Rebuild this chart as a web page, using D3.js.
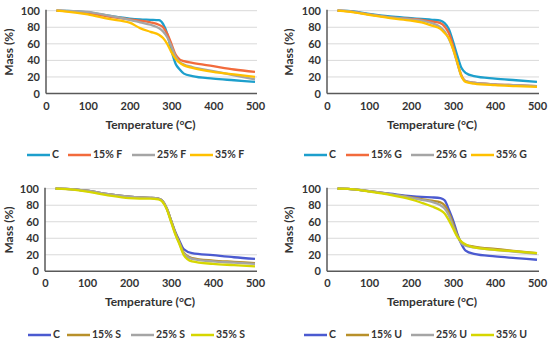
<!DOCTYPE html>
<html>
<head>
<meta charset="utf-8">
<script src="https://cdn.jsdelivr.net/npm/d3@7"></script>
<style>
  body { margin: 0; background: #fff; }
  text { font-family: Lato, "Liberation Sans", sans-serif; font-weight: 700; fill: #333; }
</style>
</head>
<body>
<div id="chart"></div>
<script>
// Temperature grid shared by all series (°C)
const temps = [25, 50, 100, 150, 200, 225, 250, 270, 280, 290, 300, 310, 320, 330, 350, 400, 450, 500];

// Panel F
const cF   = [100, 99.8, 98, 94, 90.5, 89.5, 89, 88.5, 84, 72, 52, 36, 29, 24, 21, 18, 16, 14];
const f15  = [100, 99.5, 97, 93, 89.5, 88, 86, 83, 80, 72, 60, 47, 41, 39, 37, 33, 29, 26];
const f25  = [100, 99.8, 98.5, 94, 89, 86, 83, 79, 75, 68, 57, 45, 38, 35, 32, 27, 22, 17];
const f35  = [100, 99, 95.5, 90, 85.5, 79, 74.5, 71, 67, 60, 50, 42, 37, 34, 31, 26, 23, 20];

// Panel G
const cG   = [100, 99.8, 96, 93, 91, 90, 89, 88, 85, 78, 63, 46, 31, 25, 21, 18, 16, 14];
const g15  = [100, 99.5, 95.5, 92, 90, 89, 87, 85, 81, 73, 58, 38, 22, 15, 13, 11, 10, 9];
const g25  = [100, 99.5, 95.5, 92, 89.5, 88, 85, 80, 75, 66, 54, 37, 21, 15, 13, 11, 10, 9];
const g35  = [100, 99, 95, 91, 88, 86, 82, 78, 73, 67, 54, 38, 21, 14, 12, 10, 9, 8];

// Panel S
const cS   = [100, 99.8, 97.5, 93.5, 90.5, 89.5, 89, 88, 85, 76, 62, 48, 37, 27, 22, 19.5, 17, 15];
const s15  = [100, 99.8, 97.5, 93.5, 90.5, 89.5, 89, 88, 85, 76, 62, 47, 35, 23, 16, 13, 11.5, 10];
const s25  = [100, 99.8, 97.5, 93.5, 90.5, 89.5, 89, 88, 85, 76, 61, 46, 34, 22, 15, 12, 10.5, 9];
const s35  = [100, 99.5, 96.5, 92, 88.5, 88, 88, 87, 84, 75, 60, 45, 33, 20, 12, 9, 7.5, 6];

// Panel U
const cU   = [100, 99.8, 97, 94, 91, 90, 89.5, 88.5, 86, 75, 62, 46, 33, 25, 21, 18, 16, 14];
const u15  = [100, 99.8, 97, 93.5, 89.5, 87.5, 85.5, 83.5, 80, 71, 58, 44, 35, 32, 30, 27, 24.5, 22];
const u25  = [100, 99.8, 97, 93.5, 89, 86.5, 84, 80, 76, 68, 55, 43, 34, 31, 29, 26, 23.5, 21];
const u35  = [100, 99.8, 96.5, 92.5, 87, 83, 78.5, 74, 70, 62, 52, 42, 36, 32.5, 29, 26, 24, 22];

const xTicks = [0, 100, 200, 300, 400, 500];
const yTicks = [0, 20, 40, 60, 80, 100];

const colorsA = ["#1d9fcc", "#f26b3c", "#a5a5a5", "#ffc000"];
const colorsB = ["#4b5ad0", "#b8902a", "#a5a5a5", "#d6d600"];

const panels = [
  { x0: 46, x1: 255, y0: 10.7, y1: 93.5, ylab: 10, tickY: 108, titleY: 126, legY: 155,
    names: ["C", "15% F", "25% F", "35% F"], series: [cF, f15, f25, f35], colors: colorsA,
    legX: [27, 68, 132, 190] },
  { x0: 327, x1: 537, y0: 10.7, y1: 93.5, ylab: 290, tickY: 108, titleY: 126, legY: 155,
    names: ["C", "15% G", "25% G", "35% G"], series: [cG, g15, g25, g35], colors: colorsA,
    legX: [304, 346, 411, 471] },
  { x0: 45, x1: 255, y0: 188.7, y1: 271.3, ylab: 10, tickY: 285, titleY: 303, legY: 335,
    names: ["C", "15% S", "25% S", "35% S"], series: [cS, s15, s25, s35], colors: colorsB,
    legX: [28, 67, 131, 191] },
  { x0: 327, x1: 537, y0: 188.7, y1: 271.3, ylab: 290, tickY: 285, titleY: 303, legY: 335,
    names: ["C", "15% U", "25% U", "35% U"], series: [cU, u15, u25, u35], colors: colorsB,
    legX: [304, 346, 411, 471] }
];

const svg = d3.select("#chart").append("svg")
  .attr("width", 550).attr("height", 344);

panels.forEach((p) => {
  const x = d3.scaleLinear().domain([0, 500]).range([p.x0, p.x1]);
  const y = d3.scaleLinear().domain([0, 100]).range([p.y1, p.y0]);
  const g = svg.append("g");

  // gridlines
  g.selectAll(".grid")
    .data(yTicks.filter((t) => t > 0))
    .enter().append("line")
    .attr("x1", p.x0).attr("x2", p.x1 + 2)
    .attr("y1", (d) => y(d)).attr("y2", (d) => y(d))
    .attr("stroke", "#d9d9d9").attr("stroke-width", 1);

  // y axis
  const ya = g.append("g")
    .attr("transform", `translate(${p.x0},0)`)
    .call(d3.axisLeft(y).tickValues(yTicks).tickSize(0).tickPadding(6));
  ya.select(".domain").remove();
  ya.selectAll("text").style("font-size", "11px").attr("fill", "#333");

  // x axis
  const xa = g.append("g")
    .attr("transform", `translate(0,${p.tickY - 5.5})`)
    .call(d3.axisBottom(x).tickValues(xTicks).tickSize(0).tickPadding(0));
  xa.select(".domain").remove();
  xa.selectAll("text").style("font-size", "11px").attr("fill", "#333");

  // axis lines
  g.append("line").attr("x1", p.x0).attr("x2", p.x0)
    .attr("y1", p.y0 - 1).attr("y2", p.y1)
    .attr("stroke", "#595959").attr("stroke-width", 1.5);
  g.append("line").attr("x1", p.x0).attr("x2", p.x1 + 2)
    .attr("y1", p.y1).attr("y2", p.y1)
    .attr("stroke", "#595959").attr("stroke-width", 1.5);

  // curves
  const line = d3.line()
    .x((d, i) => x(temps[i]))
    .y((d) => y(d))
    .curve(d3.curveMonotoneX);

  g.selectAll(".curve")
    .data(p.series)
    .enter().append("path")
    .attr("d", line)
    .attr("fill", "none")
    .attr("stroke", (d, i) => p.colors[i])
    .attr("stroke-width", 2.3);

  // titles
  g.append("text")
    .attr("x", (p.x0 + p.x1) / 2).attr("y", p.titleY)
    .attr("text-anchor", "middle").attr("dominant-baseline", "middle")
    .style("font-size", "12px")
    .text("Temperature (°C)");

  g.append("text")
    .attr("transform", `translate(${p.ylab},${(p.y0 + p.y1) / 2}) rotate(-90)`)
    .attr("text-anchor", "middle").attr("dominant-baseline", "middle")
    .style("font-size", "12px")
    .text("Mass (%)");

  // legend
  const leg = g.selectAll(".leg")
    .data(p.names)
    .enter().append("g")
    .attr("transform", (d, i) => `translate(${p.legX[i]},${p.legY})`);
  leg.append("line")
    .attr("x1", 0).attr("x2", 23)
    .attr("stroke", (d, i) => p.colors[i])
    .attr("stroke-width", 2.5);
  leg.append("text")
    .attr("x", 25).attr("dominant-baseline", "middle")
    .style("font-size", "10.5px")
    .text((d) => d);
});
</script>
</body>
</html>
